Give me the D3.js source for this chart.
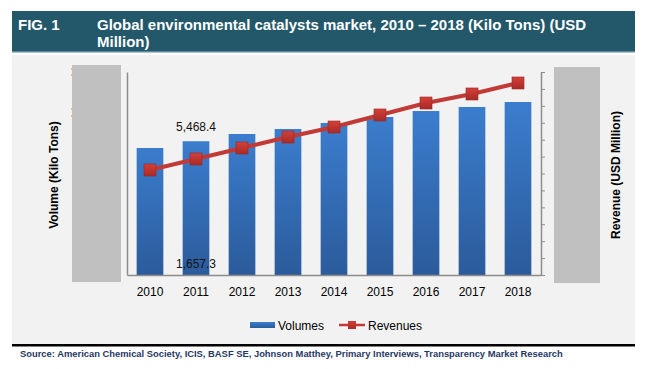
<!DOCTYPE html>
<html>
<head>
<meta charset="utf-8">
<script src="https://cdn.jsdelivr.net/npm/d3@7"></script>
<style>
  body { margin: 0; background: #fff; }
  svg { display: block; font-family: "Liberation Sans", Arial, sans-serif; }
</style>
</head>
<body>
<div id="chart"></div>
<script>
// data
const years = ["2010", "2011", "2012", "2013", "2014", "2015", "2016", "2017", "2018"];
const volumes = [5193, 5468.4, 5765, 5970, 6215, 6460, 6705, 6869, 7073];
const revenues = [1500, 1657.3, 1814, 1971, 2114, 2286, 2457, 2586, 2743];
const volumeMax = 8300;
const revenueMax = 2900;
const revenueTickCount = 12;
const sourceText = "Source: American Chemical Society, ICIS, BASF SE, Johnson Matthey, Primary Interviews, Transparency Market Research";

const W = 650, H = 369;
const plot = {left: 127, right: 541, top: 72, bottom: 275};

const svg = d3.select("#chart").append("svg")
  .attr("width", W)
  .attr("height", H);

const defs = svg.append("defs");
const barGrad = defs.append("linearGradient")
  .attr("id", "barGrad").attr("x1", 0).attr("y1", 0).attr("x2", 0).attr("y2", 1);
barGrad.append("stop").attr("offset", "0%").attr("stop-color", "#3b7dcd");
barGrad.append("stop").attr("offset", "100%").attr("stop-color", "#2b5b9b");
const markGrad = defs.append("linearGradient")
  .attr("id", "markGrad").attr("x1", 0).attr("y1", 0).attr("x2", 0).attr("y2", 1);
markGrad.append("stop").attr("offset", "0%").attr("stop-color", "#d4403a");
markGrad.append("stop").attr("offset", "100%").attr("stop-color", "#a82a26");

// title bar
svg.append("rect")
  .attr("x", 12).attr("y", 11).attr("width", 623).attr("height", 41)
  .attr("fill", "#22586a");
svg.append("rect")
  .attr("x", 12).attr("y", 51).attr("width", 623).attr("height", 1.5)
  .attr("fill", "#5f8a98");
svg.append("text")
  .attr("x", 18).attr("y", 30)
  .attr("fill", "#fff").attr("font-size", 15).attr("font-weight", "bold")
  .text("FIG. 1");
svg.append("text")
  .attr("x", 97).attr("y", 30)
  .attr("fill", "#fff").attr("font-size", 15).attr("font-weight", "bold")
  .text("Global environmental catalysts market, 2010 \u2013 2018 (Kilo Tons) (USD");
svg.append("text")
  .attr("x", 97).attr("y", 47)
  .attr("fill", "#fff").attr("font-size", 15).attr("font-weight", "bold")
  .text("Million)");

// panel
svg.append("rect")
  .attr("x", 12).attr("y", 55).attr("width", 623).attr("height", 290)
  .attr("fill", "#f2f2f2");
svg.append("rect")
  .attr("x", 12).attr("y", 344).attr("width", 623).attr("height", 2.5)
  .attr("fill", "#000");

// gray blocks covering axis labels
svg.append("rect")
  .attr("x", 72).attr("y", 65).attr("width", 49).attr("height", 217)
  .attr("fill", "#c0c0c0");
svg.append("rect")
  .attr("x", 554).attr("y", 67).attr("width", 46).attr("height", 216)
  .attr("fill", "#c0c0c0");
[69, 75, 109, 116].forEach(yy => {
  svg.append("rect")
    .attr("x", 71).attr("y", yy - 0.75).attr("width", 1.5).attr("height", 1.5)
    .attr("fill", "#e2aa70");
});

const x = d3.scaleBand()
  .domain(years)
  .range([plot.left, plot.right])
  .paddingInner(0.42)
  .paddingOuter(0.21);
const yV = d3.scaleLinear().domain([0, volumeMax]).range([plot.bottom, plot.top]);
const yR = d3.scaleLinear().domain([0, revenueMax]).range([plot.bottom, plot.top]);

// bars
svg.append("g").selectAll("rect")
  .data(years)
  .enter()
  .append("rect")
    .attr("x", d => x(d))
    .attr("y", (d, i) => yV(volumes[i]))
    .attr("width", x.bandwidth())
    .attr("height", (d, i) => plot.bottom - yV(volumes[i]))
    .attr("fill", "url(#barGrad)");

// axes
svg.append("g")
  .attr("transform", "translate(" + plot.left + ",0)")
  .call(d3.axisLeft(yV).tickValues([]).tickSizeOuter(0))
  .call(g => g.select(".domain").attr("stroke", "#8c8c8c").attr("stroke-width", 1.5));

const revTicks = d3.range(revenueTickCount + 1).map(i => i * revenueMax / revenueTickCount);
svg.append("g")
  .attr("transform", "translate(" + plot.right + ",0)")
  .call(d3.axisRight(yR).tickValues(revTicks).tickFormat("").tickSize(4).tickSizeOuter(0))
  .call(g => g.select(".domain").attr("stroke", "#8c8c8c").attr("stroke-width", 1.5))
  .call(g => g.selectAll(".tick line").attr("stroke", "#8c8c8c"));

svg.append("g")
  .attr("transform", "translate(0," + plot.bottom + ")")
  .call(d3.axisBottom(x).tickSize(0).tickPadding(12))
  .call(g => g.select(".domain").attr("stroke", "#8c8c8c").attr("stroke-width", 1.5))
  .call(g => g.selectAll("text")
    .attr("font-family", "Liberation Sans, Arial, sans-serif")
    .attr("font-size", 12).attr("fill", "#000"));

// revenue line
const line = d3.line()
  .x((d, i) => x(years[i]) + x.bandwidth() / 2)
  .y(d => yR(d));
svg.append("path")
  .datum(revenues)
  .attr("d", line)
  .attr("fill", "none")
  .attr("stroke", "#c23a36")
  .attr("stroke-width", 4);
svg.append("g").selectAll("rect")
  .data(revenues)
  .enter()
  .append("rect")
    .attr("x", (d, i) => x(years[i]) + x.bandwidth() / 2 - 6)
    .attr("y", d => yR(d) - 6)
    .attr("width", 12).attr("height", 12)
    .attr("fill", "url(#markGrad)")
    .attr("stroke", "#9c2622").attr("stroke-width", 0.6);

// data labels
svg.append("text")
  .attr("x", x("2011") + x.bandwidth() / 2).attr("y", yV(volumes[1]) - 10)
  .attr("text-anchor", "middle").attr("font-size", 12).attr("fill", "#111")
  .text(d3.format(",.1f")(volumes[1]));
svg.append("text")
  .attr("x", x("2011") + x.bandwidth() / 2).attr("y", plot.bottom - 7)
  .attr("text-anchor", "middle").attr("font-size", 12).attr("fill", "#111")
  .text(d3.format(",.1f")(revenues[1]));

// axis titles
svg.append("text")
  .attr("transform", "translate(58,175) rotate(-90)")
  .attr("text-anchor", "middle").attr("font-size", 12).attr("font-weight", "bold")
  .text("Volume (Kilo Tons)");
svg.append("text")
  .attr("transform", "translate(620,175) rotate(-90)")
  .attr("text-anchor", "middle").attr("font-size", 12).attr("font-weight", "bold")
  .text("Revenue (USD Million)");

// legend
const legend = svg.append("g");
legend.append("rect")
  .attr("x", 250).attr("y", 322).attr("width", 25).attr("height", 6)
  .attr("fill", "url(#barGrad)");
legend.append("text")
  .attr("x", 278).attr("y", 330).attr("font-size", 12)
  .text("Volumes");
legend.append("line")
  .attr("x1", 339).attr("x2", 365).attr("y1", 325).attr("y2", 325)
  .attr("stroke", "#c23a36").attr("stroke-width", 2.5);
legend.append("rect")
  .attr("x", 348).attr("y", 321).attr("width", 8).attr("height", 8)
  .attr("fill", "url(#markGrad)");
legend.append("text")
  .attr("x", 368).attr("y", 330).attr("font-size", 12)
  .text("Revenues");

// source
svg.append("text")
  .attr("x", 20).attr("y", 357)
  .attr("font-size", 9.4).attr("font-weight", "bold").attr("fill", "#1f3864")
  .text(sourceText);
</script>
</body>
</html>
